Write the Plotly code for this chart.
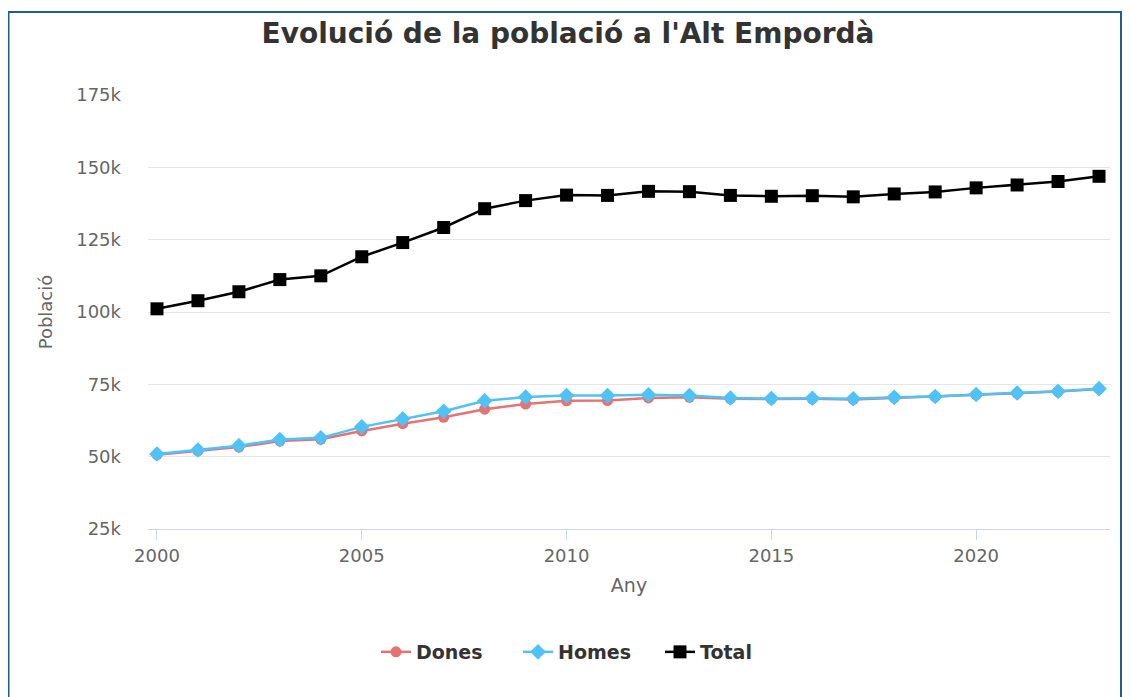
import plotly.graph_objects as go

years = list(range(2000, 2024))
dones = [50.7, 52.0, 53.3, 55.4, 56.0, 58.9, 61.4, 63.6, 66.4, 68.2, 69.3, 69.4,
         70.3, 70.5, 70.0, 69.9, 70.0, 69.8, 70.3, 70.7, 71.4, 71.9, 72.5, 73.4]
homes = [50.9, 52.3, 53.8, 55.9, 56.5, 60.3, 63.1, 65.7, 69.3, 70.6, 71.1, 71.1,
         71.4, 71.1, 70.3, 70.1, 70.2, 70.0, 70.5, 70.8, 71.5, 72.0, 72.6, 73.5]
total = [101.1, 103.9, 107.0, 111.2, 112.5, 119.1, 124.0, 129.2, 135.7, 138.5, 140.4, 140.3,
         141.7, 141.6, 140.3, 140.0, 140.2, 139.8, 140.8, 141.5, 142.9, 143.9, 145.1, 146.9]
dones = [v * 1000 for v in dones]
homes = [v * 1000 for v in homes]
total = [v * 1000 for v in total]

y_ticks = [25000, 50000, 75000, 100000, 125000, 150000, 175000]
y_labels = ["25k", "50k", "75k", "100k", "125k", "150k", "175k"]
x_ticks = [2000, 2005, 2010, 2015, 2020]

FONT = "DejaVu Sans"

fig = go.Figure()
fig.add_trace(go.Scatter(x=years, y=dones, name="Dones", mode="lines+markers",
                         line=dict(color="#e57373", width=2.5),
                         marker=dict(symbol="circle", size=11, color="#e57373")))
fig.add_trace(go.Scatter(x=years, y=homes, name="Homes", mode="lines+markers",
                         line=dict(color="#4fc3f7", width=2.5),
                         marker=dict(symbol="diamond", size=12, color="#4fc3f7")))
fig.add_trace(go.Scatter(x=years, y=total, name="Total", mode="lines+markers",
                         line=dict(color="#000000", width=2.5),
                         marker=dict(symbol="square", size=13, color="#000000")))

# page is drawn with an 8px body margin: figure coords = page coords - 8
OFF = 8
W, H = 1130, 697
L, T = 148 - OFF, 95 - OFF
R = W - (1110 - OFF)
B = H - (529 - OFF)
pw, ph = W - L - R, H - T - B

def px_x(p):
    return (p - OFF - L) / pw

def px_y(p):
    return (H - B - (p - OFF)) / ph

fig.update_layout(
    width=W, height=H,
    margin=dict(l=L, r=R, t=T, b=B),
    paper_bgcolor="white", plot_bgcolor="white",
    font=dict(family=FONT, color="#666666", size=18),
    title=dict(text="<b>Evolució de la població a l'Alt Empordà</b>",
               x=(568 - OFF) / W, xref="container", xanchor="center",
               y=1 - (33 - OFF) / H, yref="container", yanchor="middle",
               font=dict(family=FONT, size=28, color="#333333")),
    showlegend=True,
    legend=dict(orientation="h", x=px_x(376), xanchor="left",
                y=px_y(652), yanchor="middle",
                font=dict(family=FONT, size=19, color="#333333", weight="bold"),
                itemwidth=30, entrywidth=97, entrywidthmode="pixels",
                tracegroupgap=0),
    xaxis=dict(range=[2000 - 9 / 41, 2023 + 11 / 41],
               tickvals=x_ticks, ticks="outside", ticklen=10, tickcolor="#ccd6eb",
               showline=True, linecolor="#ccd6eb", linewidth=1,
               showgrid=False, zeroline=False,
               tickfont=dict(size=18, color="#666666"),
               title=dict(text="Any", font=dict(size=19, color="#666666"), standoff=14)),
    yaxis=dict(range=[25000, 175000], tickvals=y_ticks, ticktext=y_labels,
               showgrid=True, gridcolor="#e6e6e6", gridwidth=1,
               showline=False, zeroline=False, ticks="", ticklabelstandoff=26,
               tickfont=dict(size=18, color="#666666"),
               title=dict(text="Població", font=dict(size=18, color="#666666"), standoff=18)),
    shapes=[dict(type="rect", xref="paper", yref="paper",
                 x0=px_x(8.5), x1=px_x(1121), y0=px_y(720), y1=px_y(12),
                 line=dict(color="#1f5f8b", width=2), fillcolor="rgba(0,0,0,0)",
                 layer="below")],
)

fig.write_html("out.html")
